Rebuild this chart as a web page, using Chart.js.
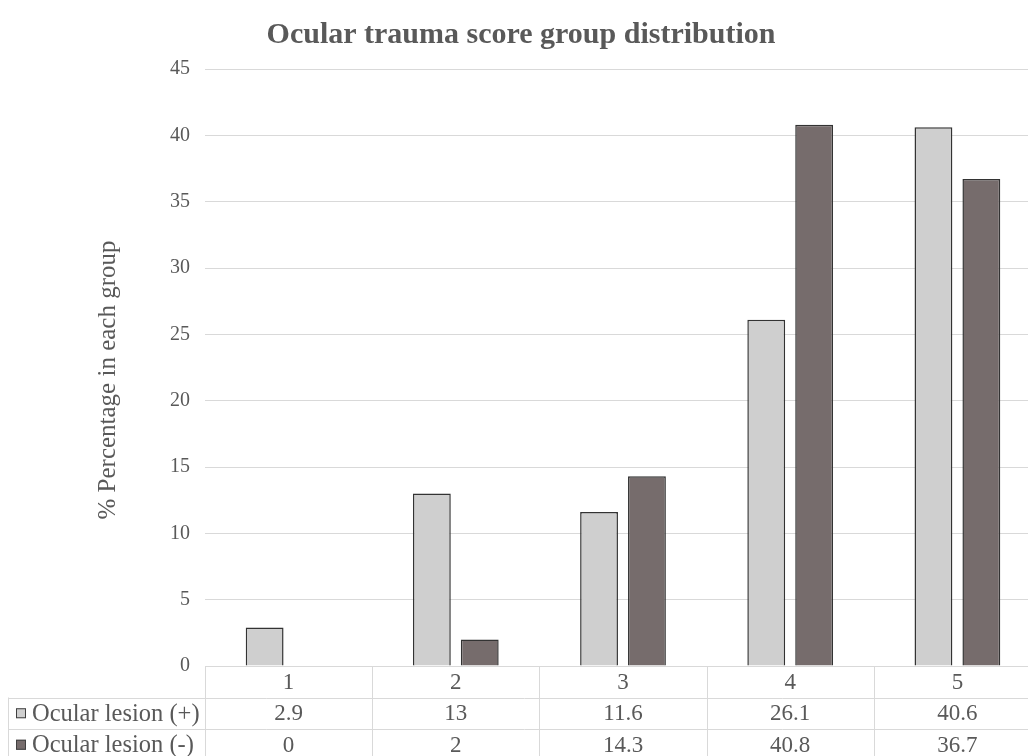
<!DOCTYPE html>
<html lang="en">
<head>
<meta charset="UTF-8">
<title>Ocular trauma score group distribution</title>
<script src="https://cdn.jsdelivr.net/npm/chart.js"></script>
<style>
  html, body { margin: 0; padding: 0; background: #fff; overflow: hidden; }
  #wrap { position: relative; width: 1060px; height: 756px; }
</style>
</head>
<body>
<div id="wrap"><canvas id="otsChart"></canvas></div>

<script>
const categories = ['1', '2', '3', '4', '5'];
const lesionPos = [2.9, 13, 11.6, 26.1, 40.6];
const lesionNeg = [0, 2, 14.3, 40.8, 36.7];
const seriesNames = ['Ocular lesion (+)', 'Ocular lesion (-)'];
const yTicks = [0, 5, 10, 15, 20, 25, 30, 35, 40, 45];

const serif = "'Liberation Serif', 'Times New Roman', serif";
const textColor = '#595959';
const gridColor = '#d9d9d9';
const barColors = ['#cfcfcf', '#766c6c'];

// title, y axis title and the data table under the plot
const extras = {
  id: 'extras',
  afterDraw(chart) {
    const ctx = chart.ctx;
    const area = chart.chartArea;
    const x = chart.scales.x;
    const colW = x.width / categories.length;
    const rowH = 31.5;
    const top = area.bottom;

    ctx.save();

    // title
    ctx.fillStyle = textColor;
    ctx.font = 'bold 30px ' + serif;
    ctx.textAlign = 'center';
    ctx.textBaseline = 'middle';
    ctx.fillText('Ocular trauma score group distribution', 521, 35);

    // y axis title
    ctx.save();
    ctx.translate(108, 380);
    ctx.rotate(-Math.PI / 2);
    ctx.font = '25px ' + serif;
    ctx.fillText('% Percentage in each group', 0, 0);
    ctx.restore();

    // table grid
    ctx.strokeStyle = gridColor;
    ctx.lineWidth = 1;
    const bottom = top + rowH * 3 + 5;
    ctx.beginPath();
    ctx.moveTo(area.left, top + 0.5);
    ctx.lineTo(area.right, top + 0.5);
    for (let r = 1; r <= 2; r++) {
      const yy = Math.round(top + rowH * r) + 0.5;
      ctx.moveTo(8, yy);
      ctx.lineTo(area.right, yy);
    }
    for (let i = 0; i <= categories.length; i++) {
      const xx = Math.round(area.left + colW * i) + 0.5;
      ctx.moveTo(xx, top);
      ctx.lineTo(xx, bottom);
    }
    ctx.moveTo(8.5, top + rowH);
    ctx.lineTo(8.5, bottom);
    ctx.stroke();

    // header row
    ctx.fillStyle = textColor;
    ctx.font = '23px ' + serif;
    ctx.textAlign = 'center';
    categories.forEach((c, i) => {
      ctx.fillText(c, x.getPixelForValue(i), top + rowH / 2 + 1);
    });

    // series rows
    const rows = [lesionPos, lesionNeg];
    rows.forEach((vals, r) => {
      const cy = top + rowH * (r + 1.5);
      ctx.fillStyle = barColors[r];
      ctx.fillRect(16, cy - 5, 10, 10);
      ctx.strokeStyle = '#404040';
      ctx.strokeRect(16.5, cy - 4.5, 9, 9);
      ctx.fillStyle = textColor;
      ctx.font = '24.5px ' + serif;
      ctx.textAlign = 'left';
      ctx.fillText(seriesNames[r], 32, cy + 1);
      ctx.font = '23px ' + serif;
      ctx.textAlign = 'center';
      vals.forEach((v, i) => {
        ctx.fillText(String(v), x.getPixelForValue(i), cy + 1);
      });
    });

    ctx.restore();
  }
};

new Chart(document.getElementById('otsChart').getContext('2d'), {
  type: 'bar',
  data: {
    labels: categories,
    datasets: [
      {
        label: seriesNames[0],
        data: lesionPos,
        backgroundColor: barColors[0],
        borderColor: '#333333',
        borderWidth: 1.5
      },
      {
        label: seriesNames[1],
        data: lesionNeg,
        backgroundColor: barColors[1],
        borderColor: '#333333',
        borderWidth: 1.5
      }
    ]
  },
  options: {
    responsive: true,
    maintainAspectRatio: false,
    animation: false,
    categoryPercentage: 0.573,
    barPercentage: 0.79,
    layout: {
      padding: { left: 0, top: 69, right: 19, bottom: 90 }
    },
    plugins: {
      legend: { display: false },
      title: { display: false },
      tooltip: { enabled: false }
    },
    scales: {
      x: {
        display: false
      },
      y: {
        min: 0,
        max: 45,
        afterFit: (scale) => { scale.width = 205; },
        afterBuildTicks: (scale) => {
          scale.ticks = yTicks.map(v => ({ value: v }));
        },
        grid: {
          color: gridColor,
          drawTicks: false
        },
        border: { display: false },
        ticks: {
          padding: 15,
          color: textColor,
          font: { family: serif, size: 20 }
        }
      }
    }
  },
  plugins: [extras]
});
</script>
</body>
</html>
